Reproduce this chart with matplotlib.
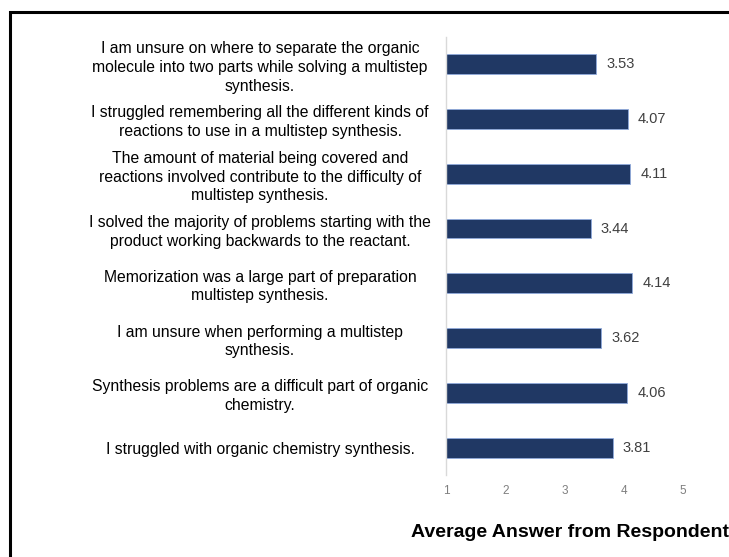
import matplotlib.pyplot as plt
from matplotlib.patches import Rectangle

plt.rcParams['font.family'] = ['Liberation Sans', 'DejaVu Sans']

# statements, bottom to top as drawn
labels = [
    "I struggled with organic chemistry synthesis.",
    "Synthesis problems are a difficult part of organic\nchemistry.",
    "I am unsure when performing a multistep\nsynthesis.",
    "Memorization was a large part of preparation\nmultistep synthesis.",
    "I solved the majority of problems starting with the\nproduct working backwards to the reactant.",
    "The amount of material being covered and\nreactions involved contribute to the difficulty of\nmultistep synthesis.",
    "I struggled remembering all the different kinds of\nreactions to use in a multistep synthesis.",
    "I am unsure on where to separate the organic\nmolecule into two parts while solving a multistep\nsynthesis.",
]
averages = [3.81, 4.06, 3.62, 4.14, 3.44, 4.11, 4.07, 3.53]
xticks = [1, 2, 3, 4, 5]

fig = plt.figure(figsize=(7.29, 5.57), dpi=100)
ax = fig.add_axes([0.612, 0.147, 0.325, 0.787])

ypos = range(len(labels))
ax.barh(ypos, [v - 1 for v in averages], left=1, height=0.36,
        color='#203864', edgecolor='#8faadc', linewidth=0.6)
for y, v in zip(ypos, averages):
    ax.text(v + 0.17, y, f'{v:.2f}', va='center', ha='left',
            fontsize=10.5, color='#404040')

ax.set_xlim(1, 5)
ax.set_ylim(-0.5, len(labels) - 0.5)
ax.set_xticks(xticks)
ax.set_xticklabels([str(t) for t in xticks])
ax.set_yticks(list(ypos))
ax.set_yticklabels(labels, ha='center', fontsize=11.3, linespacing=1.3)
ax.tick_params(axis='y', length=0, pad=134)
ax.tick_params(axis='x', length=0, pad=7, labelsize=8.5, labelcolor='#7f7f7f')
for s in ['top', 'right', 'bottom']:
    ax.spines[s].set_visible(False)
ax.spines['left'].set_color('#d9d9d9')
ax.spines['left'].set_linewidth(1)

fig.text(0.564, 0.044, 'Average Answer from Respondents', fontsize=14,
         fontweight='bold', ha='left', va='center')

# outer frame (cropped on the right and bottom)
fig.patches.append(Rectangle((0.014, -0.05), 1.1, 1.028,
                             transform=fig.transFigure, fill=False,
                             edgecolor='black', linewidth=2.2))

fig.savefig('out.png', dpi=100)
